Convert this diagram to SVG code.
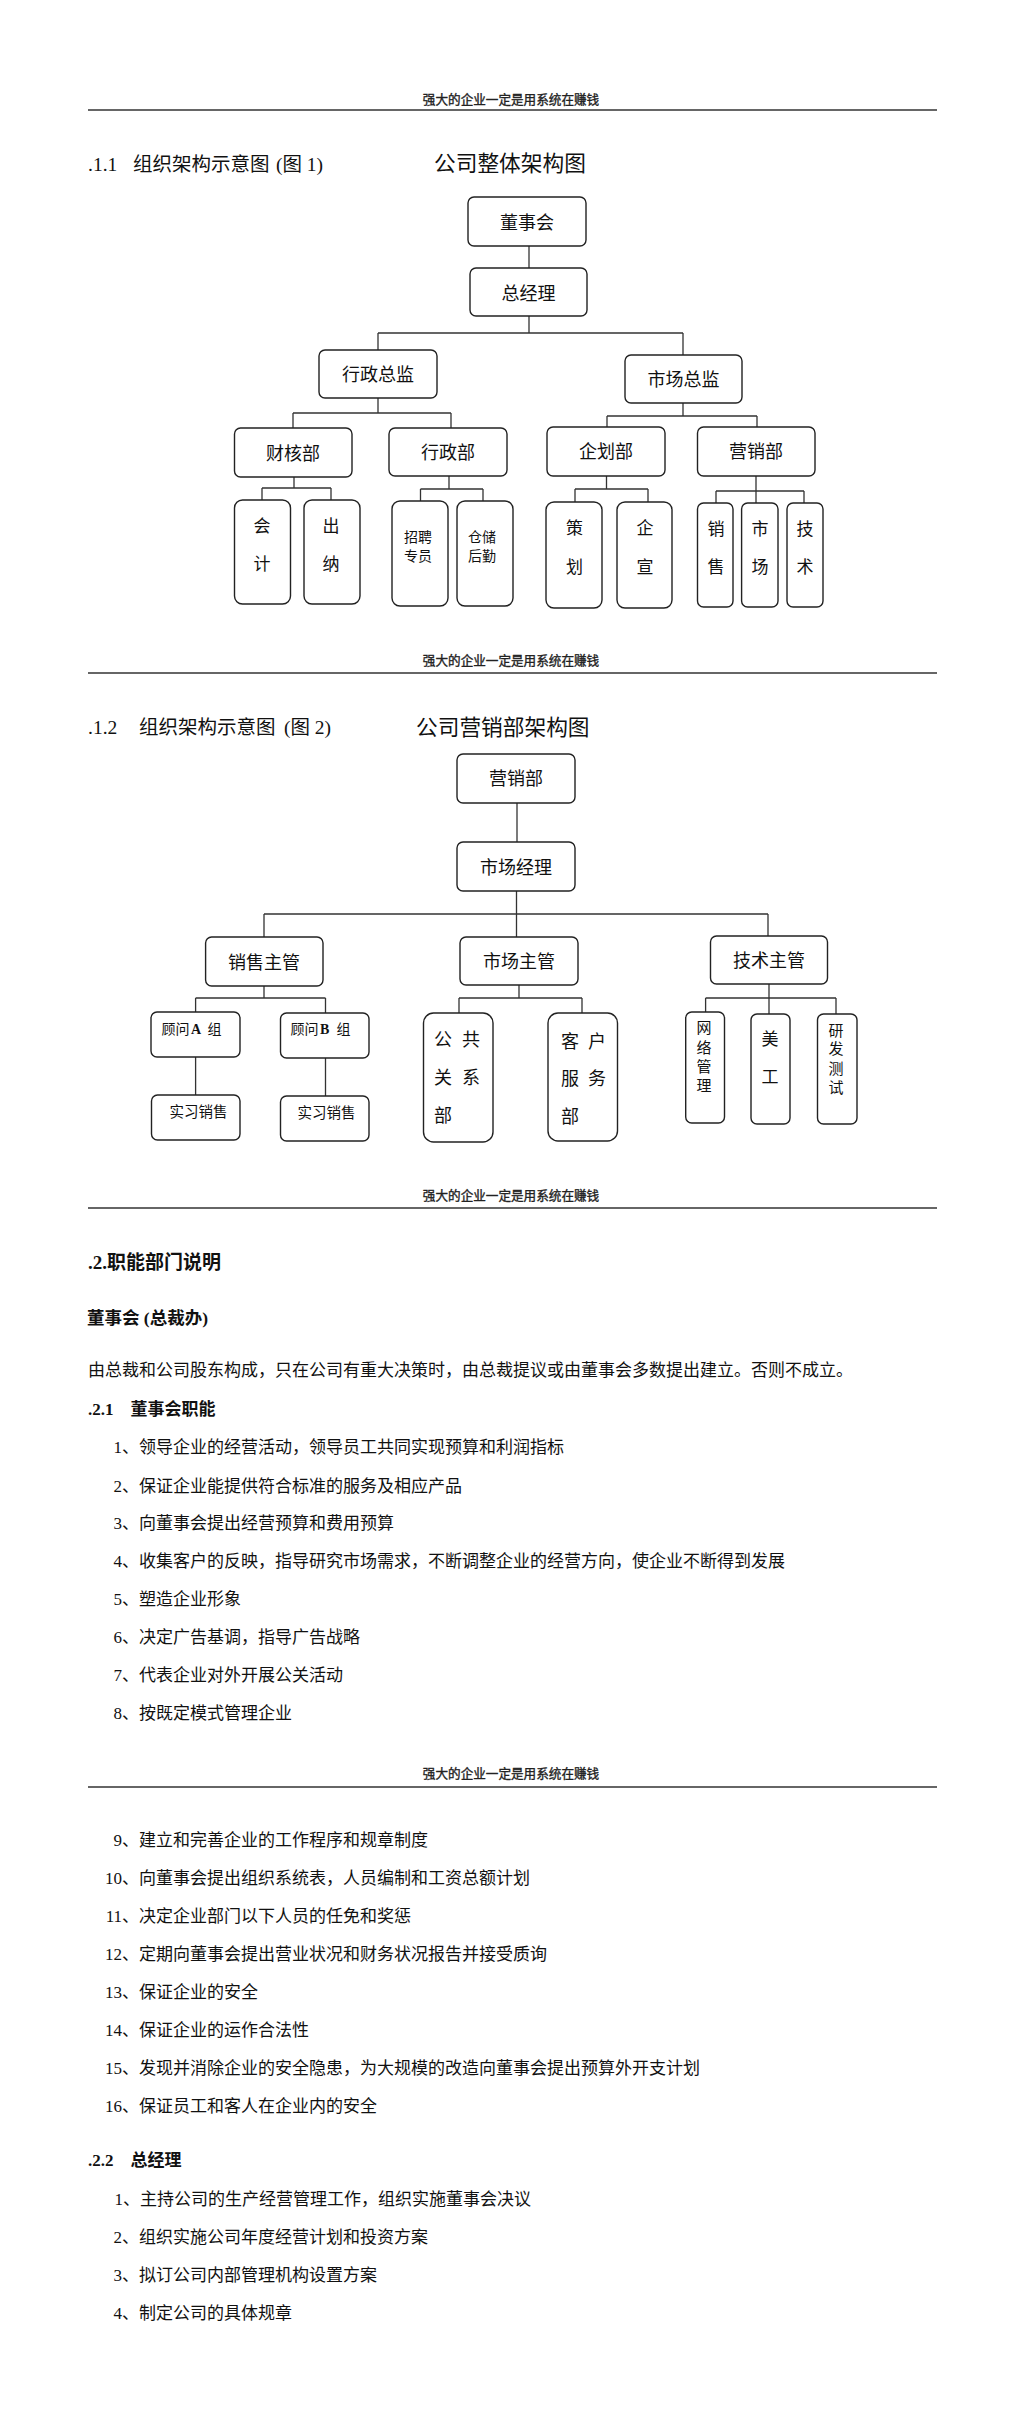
<svg xmlns="http://www.w3.org/2000/svg" width="1024" height="2413" viewBox="0 0 1024 2413">
<style>
.bg{fill:#fff}
.box{fill:#fff;stroke:#222;stroke-width:1.4}
.ln{fill:none;stroke:#333;stroke-width:1.3}
.rule{stroke:#666;stroke-width:2}
.hdr{font-family:"Noto Sans CJK SC","Liberation Sans",sans-serif;font-size:12.6px;text-anchor:middle;fill:#222;stroke:#222;stroke-width:0.35}
.t{font-family:"Liberation Serif","Noto Sans CJK SC",serif;fill:#111}
.nl{font-size:18px;text-anchor:middle}
.lf{font-size:17px;text-anchor:middle}
.sm{font-size:14px;text-anchor:middle}
.h1{font-size:19.5px}
.ti{font-size:21.7px}
.body{font-size:17px}
.b{font-weight:bold}
.num{text-anchor:end}
</style>
<rect class="bg" x="0" y="0" width="1024" height="2413"/>

<!-- page headers -->
<g id="header1"><text class="hdr" x="511" y="103.5">强大的企业一定是用系统在赚钱</text><line class="rule" x1="88" y1="110" x2="937" y2="110"/></g>
<g id="header2"><text class="hdr" x="511" y="664.5">强大的企业一定是用系统在赚钱</text><line class="rule" x1="88" y1="673" x2="937" y2="673"/></g>
<g id="header3"><text class="hdr" x="511" y="1199.5">强大的企业一定是用系统在赚钱</text><line class="rule" x1="88" y1="1208" x2="937" y2="1208"/></g>
<g id="header4"><text class="hdr" x="511" y="1778">强大的企业一定是用系统在赚钱</text><line class="rule" x1="88" y1="1787" x2="937" y2="1787"/></g>

<!-- chart 1 headings -->
<text class="t h1" y="171"><tspan x="88">.1.1</tspan><tspan x="133">组织架构示意图</tspan><tspan x="276">(图 1)</tspan></text>
<text class="t ti" x="434" y="171">公司整体架构图</text>

<!-- chart 1 connectors -->
<g id="connectors1">
<path class="ln" d="M529,246V268"/>
<path class="ln" d="M529,316V333M378,333H683M378,333V350M683,333V355"/>
<path class="ln" d="M378,398V413M293,413H451M293,413V428M451,413V428"/>
<path class="ln" d="M683,403V416M607,416H757M607,416V427M757,416V427"/>
<path class="ln" d="M294,477V488M262,488H331M262,488V500M331,488V500"/>
<path class="ln" d="M449,476V489M420.5,489H483M420.5,489V501M483,489V501"/>
<path class="ln" d="M606.5,476V489M575,489H648M575,489V502M648,489V502"/>
<path class="ln" d="M756,476V503M716,491H804M716,491V503M804,491V503"/>
</g>

<!-- chart 1 nodes -->
<g id="c1-dongshihui"><rect class="box" x="468" y="197" width="118" height="49" rx="6"/><text class="t nl" x="527" y="229">董事会</text></g>
<g id="c1-zongjingli"><rect class="box" x="470" y="268" width="117" height="48" rx="6"/><text class="t nl" x="528.5" y="299.5">总经理</text></g>
<g id="c1-xingzhengzongjian"><rect class="box" x="319" y="350" width="118" height="48" rx="6"/><text class="t nl" x="378" y="380.5">行政总监</text></g>
<g id="c1-shichangzongjian"><rect class="box" x="625" y="355" width="117" height="48" rx="6"/><text class="t nl" x="683.5" y="385.5">市场总监</text></g>
<g id="c1-caihebu"><rect class="box" x="234.5" y="428" width="117.5" height="49" rx="6"/><text class="t nl" x="293" y="459.5">财核部</text></g>
<g id="c1-xingzhengbu"><rect class="box" x="389" y="428" width="118" height="48" rx="6"/><text class="t nl" x="448" y="458.5">行政部</text></g>
<g id="c1-qihuabu"><rect class="box" x="547" y="427" width="118" height="49" rx="6"/><text class="t nl" x="606" y="458">企划部</text></g>
<g id="c1-yingxiaobu"><rect class="box" x="697.5" y="427" width="117.5" height="49" rx="6"/><text class="t nl" x="756" y="458">营销部</text></g>
<g id="c1-kuaiji"><rect class="box" x="234.5" y="500" width="56" height="104" rx="8"/><text class="t lf" x="262" y="532">会</text><text class="t lf" x="262" y="570">计</text></g>
<g id="c1-chuna"><rect class="box" x="304" y="500" width="56" height="104" rx="8"/><text class="t lf" x="331" y="532">出</text><text class="t lf" x="331" y="570">纳</text></g>
<g id="c1-zhaopin"><rect class="box" x="392" y="501" width="56" height="105" rx="8"/><text class="t sm" x="418" y="542">招聘</text><text class="t sm" x="418" y="561">专员</text></g>
<g id="c1-cangchu"><rect class="box" x="457" y="501" width="56" height="105" rx="8"/><text class="t sm" x="482" y="542">仓储</text><text class="t sm" x="482" y="561">后勤</text></g>
<g id="c1-cehua"><rect class="box" x="546" y="502" width="56" height="106" rx="8"/><text class="t lf" x="574.5" y="534">策</text><text class="t lf" x="574.5" y="573">划</text></g>
<g id="c1-qixuan"><rect class="box" x="617" y="502" width="55" height="106" rx="8"/><text class="t lf" x="645" y="534">企</text><text class="t lf" x="645" y="573">宣</text></g>
<g id="c1-xiaoshou"><rect class="box" x="697.5" y="503" width="35.5" height="104" rx="6"/><text class="t lf" x="716" y="535">销</text><text class="t lf" x="716" y="573">售</text></g>
<g id="c1-shichang"><rect class="box" x="741.6" y="503" width="36.4" height="104" rx="6"/><text class="t lf" x="760" y="535">市</text><text class="t lf" x="760" y="573">场</text></g>
<g id="c1-jishu"><rect class="box" x="787" y="503" width="36" height="104" rx="6"/><text class="t lf" x="805" y="535">技</text><text class="t lf" x="805" y="573">术</text></g>

<!-- chart 2 headings -->
<text class="t h1" y="734"><tspan x="88">.1.2</tspan><tspan x="139">组织架构示意图</tspan><tspan x="284">(图 2)</tspan></text>
<text class="t ti" x="416" y="735">公司营销部架构图</text>

<!-- chart 2 connectors -->
<g id="connectors2">
<path class="ln" d="M517,803V842"/>
<path class="ln" d="M516.5,891V914M264,914H768M264,914V937M516.5,914V937M768,914V936"/>
<path class="ln" d="M264,986V998M195.6,998H325.5M195.6,998V1012M325.5,998V1013"/>
<path class="ln" d="M195.6,1057V1095M325.5,1058V1096"/>
<path class="ln" d="M519,985V998M459,998H582M459,998V1013M582,998V1013"/>
<path class="ln" d="M769,984V998M705.6,998H836M705.6,998V1012M769,998V1014M836,998V1014"/>
</g>

<!-- chart 2 nodes -->
<g id="c2-yingxiaobu"><rect class="box" x="457" y="754" width="118" height="49" rx="6"/><text class="t nl" x="516" y="784.5">营销部</text></g>
<g id="c2-shichangjingli"><rect class="box" x="457" y="842" width="118" height="49" rx="6"/><text class="t nl" x="516" y="874">市场经理</text></g>
<g id="c2-xiaoshouzhuguan"><rect class="box" x="205.6" y="937" width="117.4" height="49" rx="6"/><text class="t nl" x="264" y="968.5">销售主管</text></g>
<g id="c2-shichangzhuguan"><rect class="box" x="460" y="937" width="118" height="48" rx="6"/><text class="t nl" x="519" y="968">市场主管</text></g>
<g id="c2-jishuzhuguan"><rect class="box" x="710.5" y="936" width="117" height="48" rx="6"/><text class="t nl" x="769" y="967">技术主管</text></g>
<g id="c2-guwenA"><rect class="box" x="151" y="1012" width="89" height="45" rx="6"/><text class="t" font-size="14" y="1033.5"><tspan x="161.5">顾问</tspan><tspan x="191" font-weight="bold">A</tspan><tspan x="207.5">组</tspan></text></g>
<g id="c2-guwenB"><rect class="box" x="280.5" y="1013" width="88.5" height="45" rx="6"/><text class="t" font-size="14" y="1034"><tspan x="290.5">顾问</tspan><tspan x="320" font-weight="bold">B</tspan><tspan x="336.5">组</tspan></text></g>
<g id="c2-shixiA"><rect class="box" x="151.5" y="1095" width="88.5" height="45" rx="6"/><text class="t" font-size="14.5" x="169.5" y="1117">实习销售</text></g>
<g id="c2-shixiB"><rect class="box" x="280.5" y="1096" width="88.5" height="45" rx="6"/><text class="t" font-size="14.5" x="297.5" y="1117.5">实习销售</text></g>
<g id="c2-gonggong"><rect class="box" x="423.5" y="1013" width="69.5" height="129" rx="10"/><text class="t nl" x="443" y="1045.5">公</text><text class="t nl" x="471" y="1045.5">共</text><text class="t nl" x="443" y="1083.5">关</text><text class="t nl" x="471" y="1083.5">系</text><text class="t nl" x="443" y="1121.5">部</text></g>
<g id="c2-kehu"><rect class="box" x="548" y="1013" width="69.5" height="128" rx="10"/><text class="t nl" x="570" y="1047.5">客</text><text class="t nl" x="597" y="1047.5">户</text><text class="t nl" x="570" y="1084.5">服</text><text class="t nl" x="597" y="1084.5">务</text><text class="t nl" x="570" y="1122.5">部</text></g>
<g id="c2-wangluo"><rect class="box" x="685.7" y="1012" width="38.8" height="111" rx="6"/><text class="t" font-size="15" text-anchor="middle" x="704" y="1032.5">网</text><text class="t" font-size="15" text-anchor="middle" x="704" y="1052.5">络</text><text class="t" font-size="15" text-anchor="middle" x="704" y="1071.5">管</text><text class="t" font-size="15" text-anchor="middle" x="704" y="1090.5">理</text></g>
<g id="c2-meigong"><rect class="box" x="751" y="1014" width="39" height="110" rx="6"/><text class="t lf" x="770" y="1045">美</text><text class="t lf" x="770" y="1083">工</text></g>
<g id="c2-yanfa"><rect class="box" x="817.5" y="1014" width="39.5" height="110" rx="6"/><text class="t" font-size="15" text-anchor="middle" x="836" y="1035.5">研</text><text class="t" font-size="15" text-anchor="middle" x="836" y="1053.5">发</text><text class="t" font-size="15" text-anchor="middle" x="836" y="1073.5">测</text><text class="t" font-size="15" text-anchor="middle" x="836" y="1092.5">试</text></g>

<!-- section 2 -->
<text class="t b" font-size="19" x="88" y="1269">.2.职能部门说明</text>
<text class="t b" font-size="17.5" x="87" y="1323.5">董事会 (总裁办)</text>
<text class="t body" x="88" y="1376">由总裁和公司股东构成，只在公司有重大决策时，由总裁提议或由董事会多数提出建立。否则不成立。</text>
<text class="t b body" y="1415"><tspan x="88">.2.1</tspan><tspan x="130.5">董事会职能</tspan></text>

<g id="list1">
<text class="t body num" x="122" y="1453">1</text><text class="t body" x="122" y="1453">、领导企业的经营活动，领导员工共同实现预算和利润指标</text>
<text class="t body num" x="122" y="1492">2</text><text class="t body" x="122" y="1492">、保证企业能提供符合标准的服务及相应产品</text>
<text class="t body num" x="122" y="1529">3</text><text class="t body" x="122" y="1529">、向董事会提出经营预算和费用预算</text>
<text class="t body num" x="122" y="1567">4</text><text class="t body" x="122" y="1567">、收集客户的反映，指导研究市场需求，不断调整企业的经营方向，使企业不断得到发展</text>
<text class="t body num" x="122" y="1605">5</text><text class="t body" x="122" y="1605">、塑造企业形象</text>
<text class="t body num" x="122" y="1643">6</text><text class="t body" x="122" y="1643">、决定广告基调，指导广告战略</text>
<text class="t body num" x="122" y="1681">7</text><text class="t body" x="122" y="1681">、代表企业对外开展公关活动</text>
<text class="t body num" x="122" y="1719">8</text><text class="t body" x="122" y="1719">、按既定模式管理企业</text>
</g>

<g id="list2">
<text class="t body num" x="122" y="1846">9</text><text class="t body" x="122" y="1846">、建立和完善企业的工作程序和规章制度</text>
<text class="t body num" x="122" y="1884">10</text><text class="t body" x="122" y="1884">、向董事会提出组织系统表，人员编制和工资总额计划</text>
<text class="t body num" x="122" y="1922">11</text><text class="t body" x="122" y="1922">、决定企业部门以下人员的任免和奖惩</text>
<text class="t body num" x="122" y="1960">12</text><text class="t body" x="122" y="1960">、定期向董事会提出营业状况和财务状况报告并接受质询</text>
<text class="t body num" x="122" y="1998">13</text><text class="t body" x="122" y="1998">、保证企业的安全</text>
<text class="t body num" x="122" y="2036">14</text><text class="t body" x="122" y="2036">、保证企业的运作合法性</text>
<text class="t body num" x="122" y="2074">15</text><text class="t body" x="122" y="2074">、发现并消除企业的安全隐患，为大规模的改造向董事会提出预算外开支计划</text>
<text class="t body num" x="122" y="2112">16</text><text class="t body" x="122" y="2112">、保证员工和客人在企业内的安全</text>
</g>

<text class="t b body" y="2166"><tspan x="88">.2.2</tspan><tspan x="130.5">总经理</tspan></text>

<g id="list3">
<text class="t body num" x="123" y="2205">1</text><text class="t body" x="123" y="2205">、主持公司的生产经营管理工作，组织实施董事会决议</text>
<text class="t body num" x="122" y="2243">2</text><text class="t body" x="122" y="2243">、组织实施公司年度经营计划和投资方案</text>
<text class="t body num" x="122" y="2281">3</text><text class="t body" x="122" y="2281">、拟订公司内部管理机构设置方案</text>
<text class="t body num" x="122" y="2319">4</text><text class="t body" x="122" y="2319">、制定公司的具体规章</text>
</g>
</svg>
